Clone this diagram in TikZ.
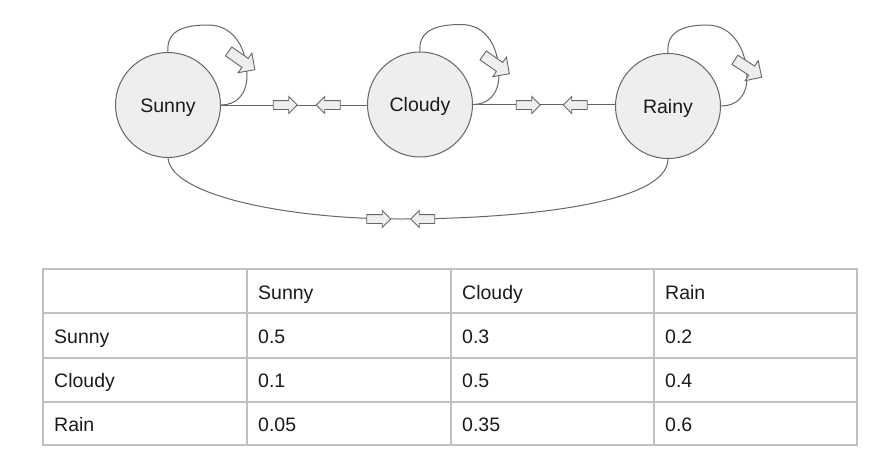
\documentclass[tikz,border=0pt]{standalone}
\usepackage{fontspec}
\setmainfont{Liberation Sans}
\usetikzlibrary{shapes.arrows}
\definecolor{edgegray}{HTML}{666666}
\definecolor{fillgray}{HTML}{EEEEEE}
\definecolor{gridgray}{HTML}{C0C0C0}
\definecolor{txt}{HTML}{1A1A1A}
\tikzset{
  state/.style={circle, draw=edgegray, fill=fillgray, line width=1pt, minimum size=105pt, inner sep=0pt,
    text height=14pt, text depth=0pt, text=txt},
  conn/.style={draw=edgegray, line width=1pt},
  blockarrow/.style={single arrow, draw=edgegray, fill=fillgray, line width=0.9pt,
    inner xsep=0pt, inner ysep=4pt, minimum height=24pt, single arrow head extend=4pt},
  looparrow/.style={blockarrow, inner ysep=5pt, minimum height=32pt, single arrow head extend=6.5pt},
  cell/.style={anchor=base west, inner sep=0pt, text=txt},
  grid/.style={draw=gridgray, line width=1.4pt}
}
\begin{document}
\begin{tikzpicture}[x=1pt, y=-1pt, font=\fontsize{19.5pt}{23pt}\selectfont]
\useasboundingbox (0,0) rectangle (871,464);

% states
\node[state] (sunny) at (168,105) {Sunny};
\node[state] (cloudy) at (420,104.5) {Cloudy};
\node[state] (rainy) at (668,106) {Rainy};

% self loops
\draw[conn] (sunny.north) .. controls +(-2,-22) and +(-23,0) .. ++(40,-27)
  .. controls +(27,0) and +(0,-25) .. ++(39,50)
  .. controls +(0,20) and +(15,0) .. (sunny.east);
\draw[conn] (cloudy.north) .. controls +(-2,-22) and +(-23,0) .. ++(41,-27)
  .. controls +(27,0) and +(0,-25) .. ++(38,50)
  .. controls +(0,20) and +(15,0) .. (cloudy.east);
\draw[conn] (rainy.north) .. controls +(-2,-22) and +(-23,0) .. ++(39,-28)
  .. controls +(27,0) and +(0,-25) .. ++(40,52)
  .. controls +(0,20) and +(15,0) .. (rainy.east);

% horizontal connectors
\draw[conn] (sunny.east) -- (sunny.east -| cloudy.west);
\draw[conn] (cloudy.east) -- (cloudy.east -| rainy.west);

% bottom connector
\coordinate (bmid) at (400,219);
\draw[conn] (sunny.south) .. controls +(3,38) and +(-110,0) .. (bmid)
  .. controls +(120,0) and +(0,45) .. (rainy.south);

% block arrows
\node[blockarrow] (a1) at (283,105) {};
\node[blockarrow, rotate=180] (a2) at (330.5,105) {};
\node[blockarrow] (a3) at (526,105) {};
\node[blockarrow, rotate=180] (a4) at (577.5,105) {};
\node[blockarrow] (a5) at (376.5,219) {};
\node[blockarrow, rotate=180] (a6) at (425,219) {};
\node[looparrow, rotate=-35] (l1) at (239.5,59) {};
\node[looparrow, rotate=-35] (l2) at (494,63) {};
\node[looparrow, rotate=-33] (l3) at (746,67) {};

% table
\draw[grid] (43,269) rectangle (857,445);
\foreach \yy in {313,358,402} \draw[grid] (43,\yy) -- (857,\yy);
\foreach \xx in {247,451,654} \draw[grid] (\xx,269) -- (\xx,445);

\node[cell] (h1) at (258,299) {Sunny};
\node[cell] (h2) at (462,299) {Cloudy};
\node[cell] (h3) at (665,299) {Rain};

\node[cell] (r1) at (54,343) {Sunny};
\node[cell] (r1a) at (258,343) {0.5};
\node[cell] (r1b) at (462,343) {0.3};
\node[cell] (r1c) at (665,343) {0.2};

\node[cell] (r2) at (54,387.5) {Cloudy};
\node[cell] (r2a) at (258,387.5) {0.1};
\node[cell] (r2b) at (462,387.5) {0.5};
\node[cell] (r2c) at (665,387.5) {0.4};

\node[cell] (r3) at (54,431) {Rain};
\node[cell] (r3a) at (258,431) {0.05};
\node[cell] (r3b) at (462,431) {0.35};
\node[cell] (r3c) at (665,431) {0.6};
\end{tikzpicture}
\end{document}
